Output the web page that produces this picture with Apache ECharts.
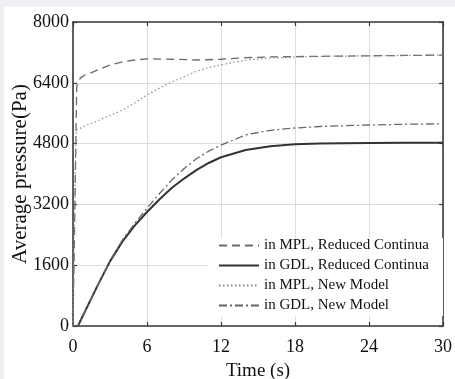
<!DOCTYPE html>
<html>
<head>
<meta charset="utf-8">
<script src="https://cdn.jsdelivr.net/npm/echarts@6/dist/echarts.min.js"></script>
<style>
html,body{margin:0;padding:0;background:#eef0f3;}
#wrap{position:relative;width:455px;height:379px;background:#eef0f3;overflow:hidden;}
#chart{position:absolute;left:4px;top:7px;width:451px;height:372px;background:#ffffff;}
</style>
</head>
<body>
<div id="wrap"><div id="chart"></div></div>
<script>
// Time (s) / Average pressure (Pa)
const xTicks = [0, 6, 12, 18, 24, 30];
const yTicks = [0, 1600, 3200, 4800, 6400, 8000];
const seriesNames = ['in MPL, Reduced Continua', 'in GDL, Reduced Continua', 'in MPL, New Model', 'in GDL, New Model'];

const mplReducedT = [0, 0.15, 0.3, 0.6, 1, 1.6, 2, 3, 4, 5, 6, 8, 10, 12, 14, 16, 18, 21, 24, 27, 30];
const mplReducedP = [0, 3000, 6300, 6530, 6610, 6680, 6740, 6870, 6950, 7000, 7030, 7020, 7000, 7020, 7060, 7080, 7090, 7100, 7110, 7120, 7130];

const gdlReducedT = [0, 0.4, 1, 2, 3, 4, 5, 6, 7, 8, 9, 10, 11, 12, 14, 16, 18, 20, 22, 24, 27, 30];
const gdlReducedP = [0, 0, 400, 1070, 1700, 2220, 2640, 3000, 3330, 3630, 3880, 4100, 4290, 4440, 4630, 4730, 4780, 4800, 4810, 4815, 4820, 4820];

const mplNewT = [0, 0.1, 0.25, 1, 2, 3, 4, 5, 6, 7, 8, 9, 10, 11, 12, 13, 14, 16, 18, 21, 24, 27, 30];
const mplNewP = [0, 2500, 5150, 5270, 5400, 5540, 5680, 5870, 6080, 6260, 6420, 6560, 6700, 6800, 6870, 6940, 7000, 7050, 7080, 7100, 7110, 7120, 7130];

const gdlNewT = [0, 0.4, 1, 2, 3, 4, 5, 6, 7, 8, 9, 10, 11, 12, 14, 16, 18, 20, 22, 24, 27, 30];
const gdlNewP = [0, 0, 400, 1070, 1710, 2260, 2700, 3100, 3480, 3840, 4140, 4400, 4600, 4760, 5030, 5150, 5210, 5250, 5270, 5290, 5310, 5320];

function pairs(t, p) { return t.map((v, i) => [v, p[i]]); }

const FONT = "'Liberation Serif', 'Times New Roman', serif";
const chart = echarts.init(document.getElementById('chart'), null, {renderer: 'canvas'});

function axisLine() { return {show: true, onZero: false, lineStyle: {color: '#3a3a3a', width: 1.6}}; }
function tickIn() { return {show: true, inside: true, length: 4, lineStyle: {color: '#3a3a3a', width: 1.2}}; }

chart.setOption({
  animation: false,
  backgroundColor: '#ffffff',
  grid: {left: 69, top: 15, right: 12, bottom: 53, containLabel: false, outerBoundsMode: 'none'},
  legend: {
    orient: 'vertical',
    left: 204, top: 231,
    backgroundColor: '#ffffff',
    padding: [0, 14, 3, 10],
    itemWidth: 40, itemHeight: 14, itemGap: 5,
    itemStyle: {opacity: 0},
    data: seriesNames,
    textStyle: {fontFamily: FONT, fontSize: 15, color: '#111', lineHeight: 15}
  },
  xAxis: [
    {type: 'value', min: 0, max: 30, interval: 6, position: 'bottom',
     name: 'Time (s)', nameLocation: 'middle', nameGap: 36, nameMoveOverlap: false,
     nameTextStyle: {fontFamily: FONT, fontSize: 19, color: '#111', verticalAlign: 'top'},
     axisLine: axisLine(), axisTick: tickIn(),
     axisLabel: {fontFamily: FONT, fontSize: 18, color: '#111', margin: 12, formatter: v => String(v)},
     splitLine: {show: true, lineStyle: {color: '#dcdcdc', width: 1}}},
    {type: 'value', min: 0, max: 30, interval: 6, position: 'top',
     axisLine: axisLine(), axisTick: tickIn(), axisLabel: {show: false}, splitLine: {show: false}}
  ],
  yAxis: [
    {type: 'value', min: 0, max: 8000, interval: 1600, position: 'left',
     name: 'Average pressure(Pa)', nameLocation: 'middle', nameGap: 42, nameMoveOverlap: false,
     nameTextStyle: {fontFamily: FONT, fontSize: 21, color: '#111'},
     axisLine: axisLine(), axisTick: tickIn(),
     axisLabel: {fontFamily: FONT, fontSize: 18, color: '#111', margin: 4, formatter: v => String(v)},
     splitLine: {show: true, lineStyle: {color: '#dcdcdc', width: 1}}},
    {type: 'value', min: 0, max: 8000, interval: 1600, position: 'right',
     axisLine: axisLine(), axisTick: tickIn(), axisLabel: {show: false}, splitLine: {show: false}}
  ],
  series: [
    {name: seriesNames[0], type: 'line', symbol: 'none', data: pairs(mplReducedT, mplReducedP),
     smooth: false,
     lineStyle: {color: '#6a6a6a', width: 1.3, type: [8, 5]}, itemStyle: {color: '#6a6a6a'}},
    {name: seriesNames[1], type: 'line', symbol: 'none', data: pairs(gdlReducedT, gdlReducedP),
     smooth: false,
     lineStyle: {color: '#333333', width: 2}, itemStyle: {color: '#333333'}},
    {name: seriesNames[2], type: 'line', symbol: 'none', data: pairs(mplNewT, mplNewP),
     smooth: false,
     lineStyle: {color: '#8a8a8a', width: 1.2, type: [1.5, 2.5]}, itemStyle: {color: '#8a8a8a'}},
    {name: seriesNames[3], type: 'line', symbol: 'none', data: pairs(gdlNewT, gdlNewP),
     smooth: false,
     lineStyle: {color: '#666666', width: 1.3, type: [8, 3, 2, 3]}, itemStyle: {color: '#666666'}}
  ]
});
</script>
</body>
</html>
